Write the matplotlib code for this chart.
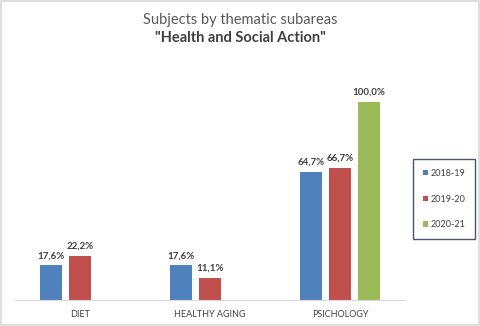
import matplotlib
matplotlib.use("Agg")
import matplotlib.pyplot as plt
import numpy as np

categories = ["DIET", "HEALTHY AGING", "PSICHOLOGY"]
series = ["2018-19", "2019-20", "2020-21"]
v1819 = [17.6, 17.6, 64.7]
v1920 = [22.2, 11.1, 66.7]
v2021 = [None, None, 100.0]
colors = ["#4F81BD", "#C0504D", "#9BBB59"]

W, H = 480, 326
fig = plt.figure(figsize=(W/100, H/100), dpi=100)
plt.rcParams['font.family'] = ['Lato', 'DejaVu Sans']

# border
fig.patches.append(plt.Rectangle((0.003, 0.004), 0.994, 0.992, transform=fig.transFigure,
                                 fill=False, edgecolor="#D9D9D9", linewidth=1.2))

ax = fig.add_axes([15/W, 1-300/H, 390/W, 230/H])
ax.set_xlim(-0.5, 2.5)
ax.set_ylim(0, 116)
x = np.arange(len(categories))
bw = 22/130
step = 29/130
for i, (vals, c, lab) in enumerate(zip([v1819, v1920, v2021], colors, series)):
    xs, ys = [], []
    for j, v in enumerate(vals):
        if v is not None:
            xs.append(x[j] + (i-1)*step)
            ys.append(v)
    ax.bar(xs, ys, width=bw, color=c, label=lab)
    for xx, yy in zip(xs, ys):
        ax.text(xx, yy + 2.5, f"{yy:.1f}%".replace(".", ","), ha="center", va="bottom",
                fontsize=7, fontweight="bold", color="#404040")
ax.set_xticks(x)
ax.set_xticklabels(categories, fontsize=6.5, color="#404040")
ax.tick_params(axis="x", length=0, pad=7)
ax.set_yticks([])
for s in ["top", "right", "left"]:
    ax.spines[s].set_visible(False)
ax.spines["bottom"].set_color("#D9D9D9")

leg = ax.legend(loc="center left", bbox_to_anchor=(411/W, 1-199/H), bbox_transform=fig.transFigure,
                fontsize=6.5, frameon=True, fancybox=False, handlelength=0.55, handleheight=0.55,
                handletextpad=0.3, labelspacing=1.85, borderpad=1.1, borderaxespad=0.2,
                labelcolor="#404040")
leg.get_frame().set_edgecolor("#1F2A44")
leg.get_frame().set_linewidth(1.0)

fig.text(0.5, 1-20/H, "Subjects by thematic subareas", ha="center", va="center",
         fontsize=10.5, color="#595959")
fig.text(0.5, 1-38/H, "\"Health and Social Action\"", ha="center", va="center",
         fontsize=10.5, fontweight="bold", color="#404040")

fig.savefig("out.png", dpi=100)
